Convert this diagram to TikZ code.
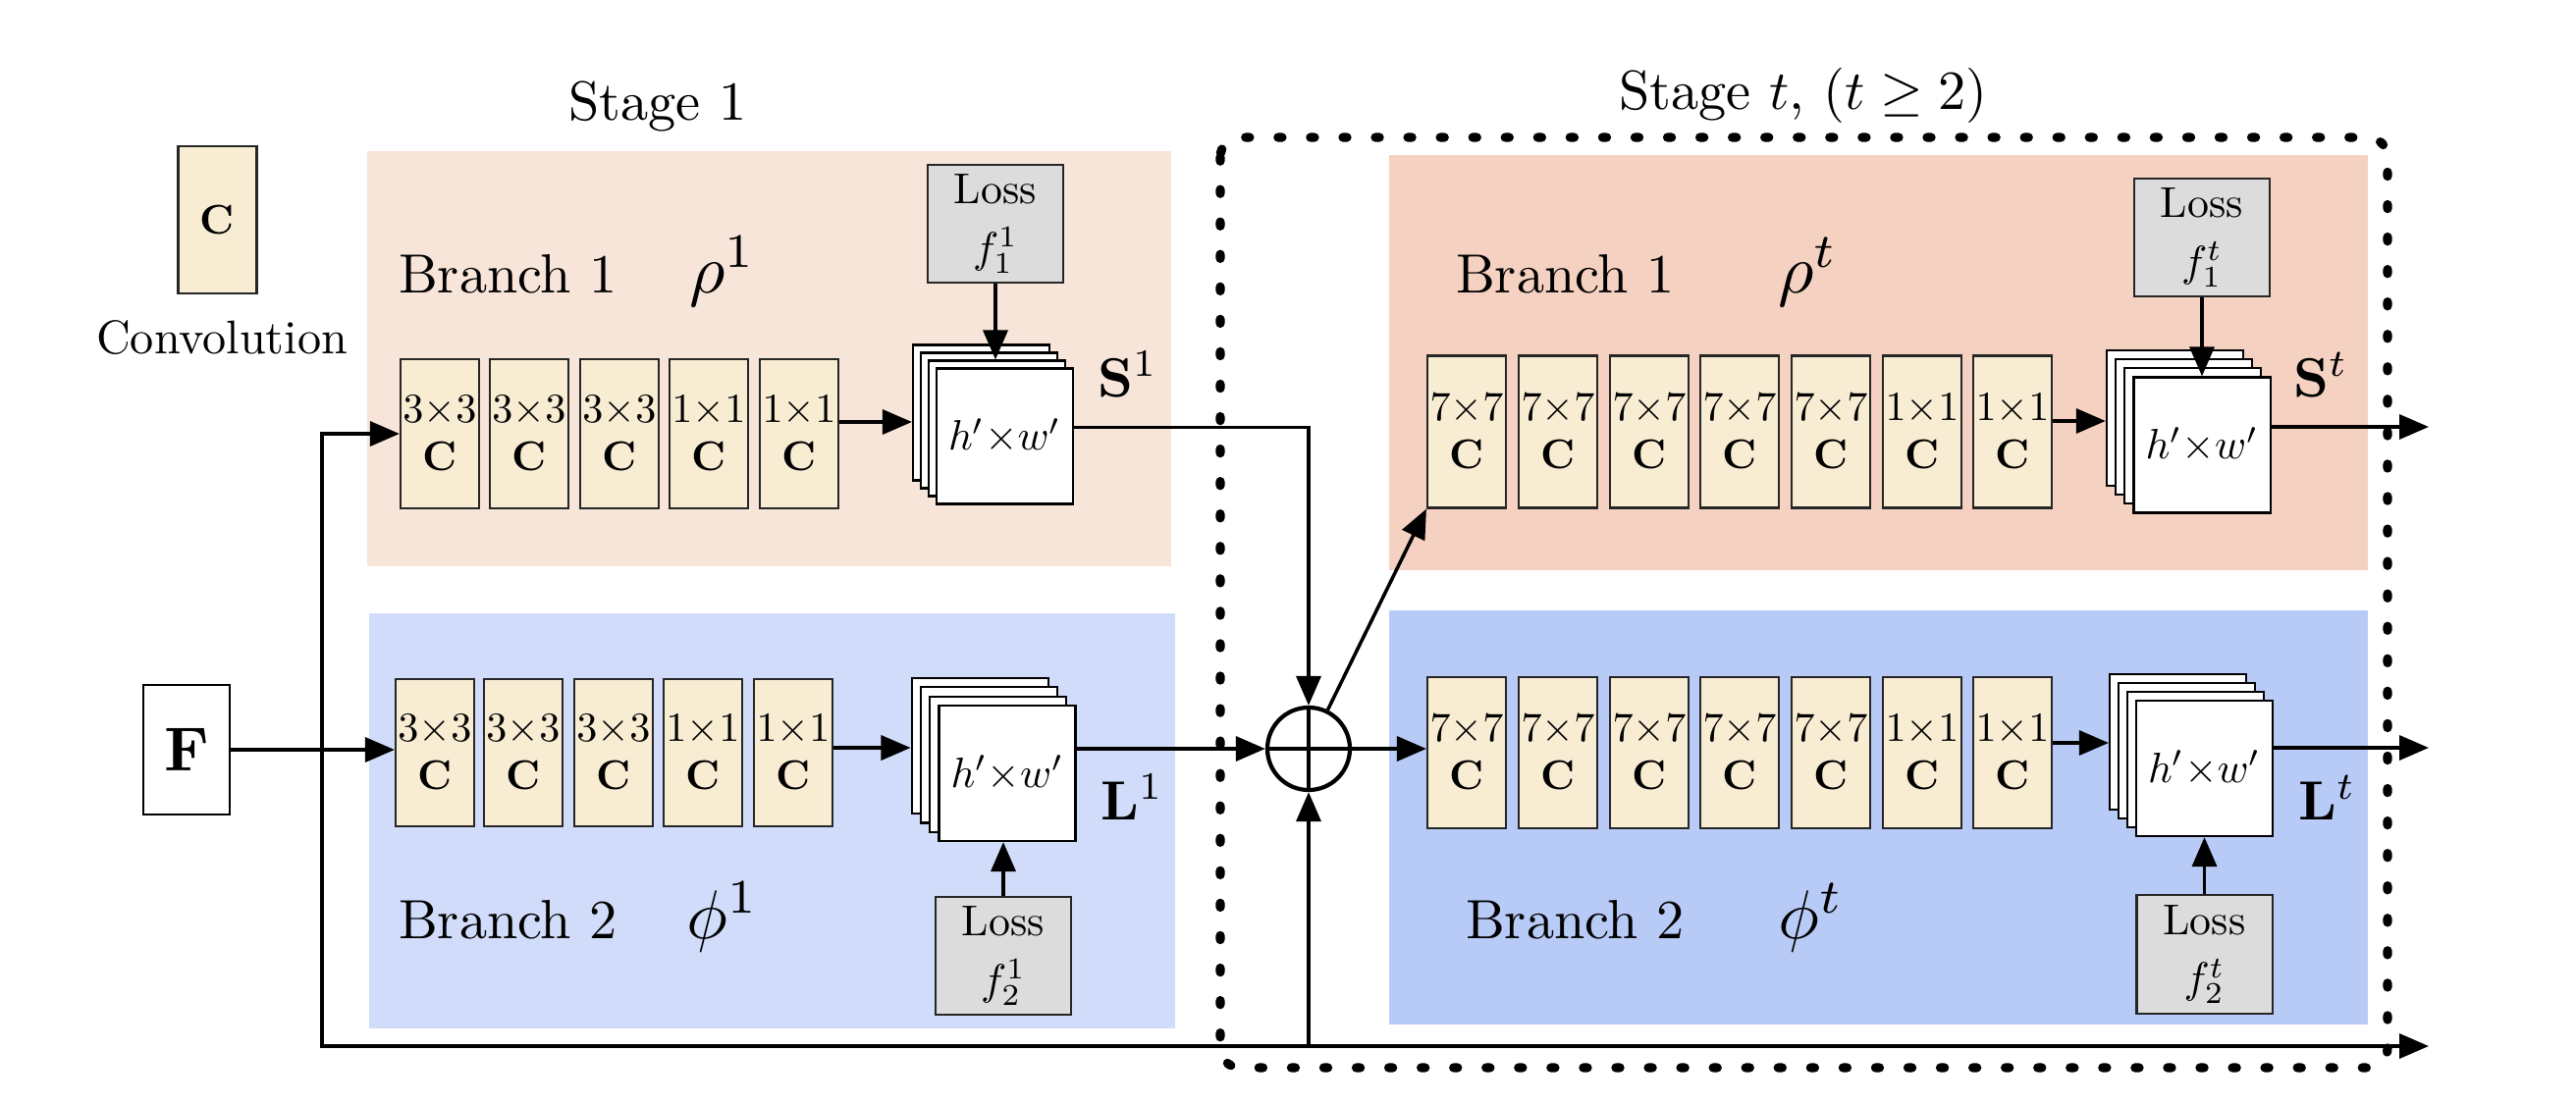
\RequirePackage{fix-cm}
\documentclass[tikz,border=0pt]{standalone}
\usepackage{amsmath}
\usepackage{graphicx}
\usetikzlibrary{arrows.meta,calc}
\definecolor{bgAa}{RGB}{247,229,218}
\definecolor{bgAb}{RGB}{208,220,249}
\definecolor{bgBa}{RGB}{244,209,192}
\definecolor{bgBb}{RGB}{184,202,246}
\definecolor{convfill}{RGB}{248,236,211}
\definecolor{lossfill}{RGB}{221,220,221}
\newcommand{\sz}[2]{\scalebox{#1}{#2}}
\newcommand{\cv}[1]{\sz{1.2}{$#1{\times}#1$}\\\sz{1.2}{\textbf{C}}}
\tikzset{
  convbox/.style={draw=black!85, line width=0.6pt, fill=convfill, minimum width=0.8cm, minimum height=1.52cm, inner sep=0pt, align=center, font=\fontsize{10}{14}\selectfont},
  lossbox/.style={draw=black!85, line width=0.6pt, fill=lossfill, minimum width=1.38cm, minimum height=1.2cm, inner sep=0pt, align=center, font=\fontsize{10}{17}\selectfont},
  sheet/.style={draw=black, line width=0.6pt, fill=white, minimum width=1.39cm, minimum height=1.38cm, inner sep=0pt, font=\fontsize{10}{12}\selectfont},
  arr/.style={line width=1pt, -{Triangle[length=3mm,width=2.5mm]}},
  ln/.style={line width=1pt},
  lbl/.style={inner sep=0pt, font=\fontsize{10}{12}\selectfont, scale=1.6},
  mlbl/.style={inner sep=0pt, font=\fontsize{10}{12}\selectfont, scale=2.0},
}
\newcommand{\mapstack}[4]{%
  \node[sheet] (#1c) at ({#2-3*#4},{#3-3*#4}) {};
  \node[sheet] (#1b) at ({#2-2*#4},{#3-2*#4}) {};
  \node[sheet] (#1a) at ({#2-#4},{#3-#4}) {};
  \node[sheet] (#1) at (#2,#3) {\sz{1.23}{$h'{\times}w'$}};}
\begin{document}
\begin{tikzpicture}[x=0.01cm,y=-0.01cm]
\useasboundingbox (0,0) rectangle (2624,1124);

% backgrounds
\fill[bgAa] (374,154) rectangle (1193,577);
\fill[bgAb] (376,625) rectangle (1197,1048);
\fill[bgBa] (1415,158) rectangle (2412,581);
\fill[bgBb] (1415,622) rectangle (2412,1044);

% dotted frame of stage t
\draw[line width=2.6pt, line cap=round, dash pattern=on 1.2pt off 8.2pt, rounded corners=0.2cm] (1243,140) rectangle (2432,1088);

% legend
\node[convbox, minimum height=1.5cm] (leg) at (221.5,224) {\sz{1.2}{\textbf{C}}};
\node[lbl, scale=1.37/1.6, anchor=base] (legtxt) at (226,360) {Convolution};

% titles
\node[lbl, anchor=base] (st1) at (670,122) {Stage 1};
\node[lbl, anchor=base] (stt) at (1837,111) {Stage $t$, $(t\geq2)$};

% ---------- Stage 1, branch 1 ----------
\node[lbl, anchor=base west] (brA) at (405,298) {Branch 1};
\node[mlbl, anchor=base west] (rhoA) at (701,298) {$\rho^1$};
\foreach \xx/\kk [count=\i] in {448/3,539/3,631/3,722/1,814/1}
  \node[convbox] (a\i) at (\xx,442) {\cv{\kk}};
\mapstack{sA}{1023.5}{444.5}{8}
\draw[arr] ([yshift=1.2mm]a5.east) -- ([yshift=1.2mm]a5.east -| sAc.west);
\node[lossbox] (lA) at (1014,228) {\sz{1.25}{Loss}\\\sz{1.25}{$f_1^1$}};
\draw[arr] (lA.south) -- (lA.south |- sAa.north);
\node[lbl, anchor=base west] (SA) at (1117,404) {$\mathbf{S}^1$};

% ---------- Stage 1, branch 2 ----------
\node[lbl, anchor=base west] (brB) at (405,956) {Branch 2};
\node[mlbl, anchor=base west] (phiB) at (698,956) {$\phi^1$};
\foreach \xx/\kk [count=\i] in {443/3,533/3,625/3,716/1,808/1}
  \node[convbox, minimum height=1.5cm] (b\i) at (\xx,767) {\cv{\kk}};
\mapstack{sB}{1026}{788}{9.3}
\draw[arr] ([yshift=0.5mm]b5.east) -- ([yshift=0.5mm]b5.east -| sBc.west);
\node[lossbox] (lB) at (1022,974) {\sz{1.25}{Loss}\\\sz{1.25}{$f_2^1$}};
\draw[arr] (lB.north) -- (lB.north |- sB.south);
\node[lbl, anchor=base west] (LB) at (1120,835) {$\mathbf{L}^1$};

% ---------- input F ----------
\node[draw, line width=0.6pt, minimum width=0.88cm, minimum height=1.32cm, inner sep=0pt, font=\fontsize{10}{12}\selectfont] (F) at (190,764) {\sz{1.8}{$\mathbf{F}$}};
\draw[arr] (F.east) -- (F.east -| b1.west);

% ---------- sum ----------
\node[circle, draw, line width=1.2pt, minimum size=0.84cm, inner sep=0pt] (op) at (1333,763) {};
\draw[line width=1.2pt] (op.north) -- (op.south) (op.west) -- (op.east);

\coordinate (j) at (328,764);
\coordinate (jb) at (328,1066);
\coordinate (oB) at (2474,1066);
\coordinate (oS) at (2474,435);
\coordinate (oL) at (2474,762);
\draw[arr] (j) |- (a1.west);
\draw[ln] (j) -- (jb) -- (jb -| op);
\draw[arr] (jb -| op) -- (op.south);
\draw[arr] (jb -| op) -- (oB);
\draw[arr] ([yshift=0.9mm]sA.east) -| (op.north);
\draw[arr] (sB.east |- op.west) -- (op.west);

% ---------- Stage t, branch 1 ----------
\node[lbl, anchor=base west] (brC) at (1482,298) {Branch 1};
\node[mlbl, anchor=base west] (rhoC) at (1810,298) {$\rho^t$};
\foreach \xx/\kk [count=\i] in {1494/7,1587/7,1680/7,1772/7,1865/7,1958/1,2050/1}
  \node[convbox, minimum height=1.55cm] (c\i) at (\xx,440) {\cv{\kk}};
\mapstack{sC}{2243}{453.5}{9.2}
\draw[arr] ([yshift=1.1mm]c7.east) -- ([yshift=1.1mm]c7.east -| sCc.west);
\node[lossbox] (lC) at (2243,242) {\sz{1.25}{Loss}\\\sz{1.25}{$f_1^t$}};
\draw[arr] (lC.south) -- (lC.south |- sC.north);
\node[lbl, anchor=base west] (SC) at (2335,404) {$\mathbf{S}^t$};

% ---------- Stage t, branch 2 ----------
\node[lbl, anchor=base west] (brD) at (1492,956) {Branch 2};
\node[mlbl, anchor=base west] (phiD) at (1810,956) {$\phi^t$};
\foreach \xx/\kk [count=\i] in {1494/7,1587/7,1680/7,1772/7,1865/7,1958/1,2050/1}
  \node[convbox, minimum height=1.54cm] (d\i) at (\xx,767) {\cv{\kk}};
\mapstack{sD}{2245.5}{783}{9}
\draw[arr] ([yshift=1mm]d7.east) -- ([yshift=1mm]d7.east -| sDc.west);
\node[lossbox, minimum height=1.21cm] (lD) at (2245.5,972.5) {\sz{1.25}{Loss}\\\sz{1.25}{$f_2^t$}};
\draw[arr] (lD.north) -- (lD.north |- sD.south);
\node[lbl, anchor=base west] (LD) at (2340,835) {$\mathbf{L}^t$};

% connections into stage t
\draw[arr] (op) -- (c1.south west);
\draw[arr] (op.east) -- (op.east -| d1.west);
\draw[arr] (sC.east |- oS) -- (oS);
\draw[arr] (sD.east |- oL) -- (oL);
\end{tikzpicture}
\end{document}
